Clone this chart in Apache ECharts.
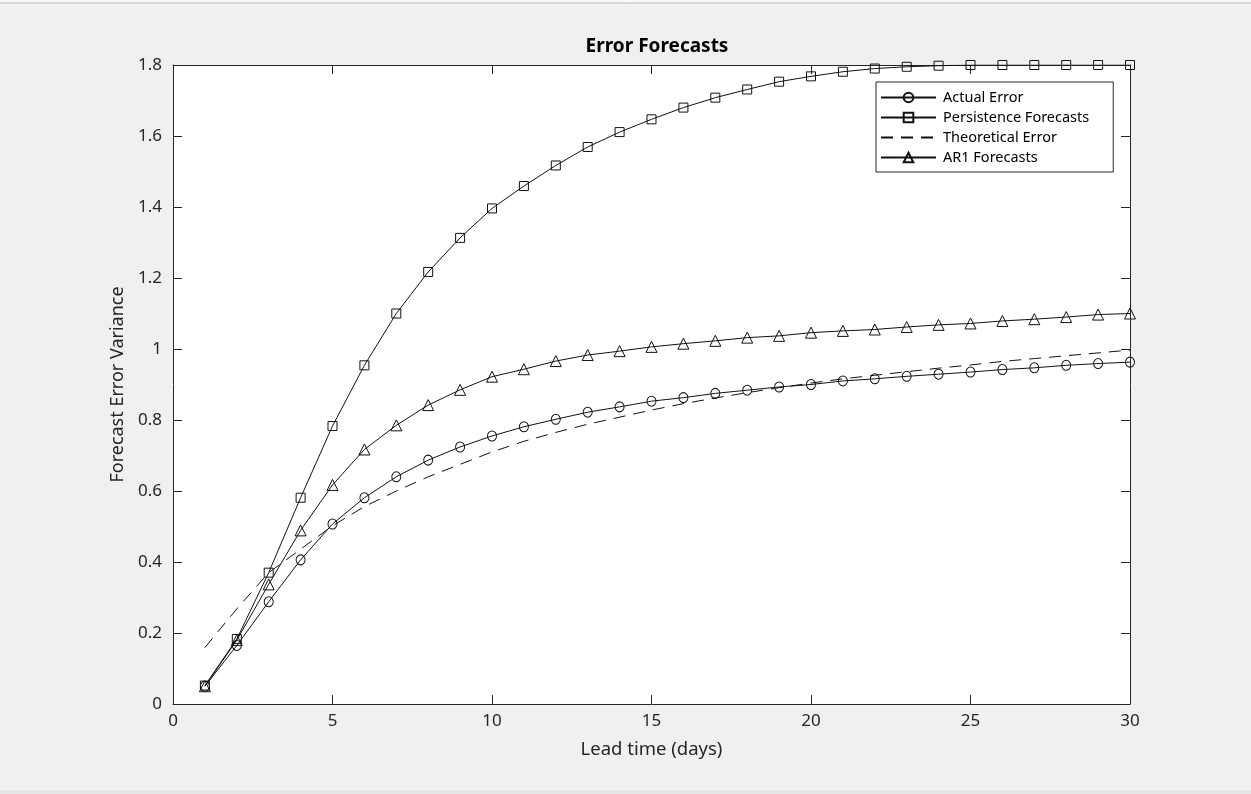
<!DOCTYPE html>
<html>
<head>
<meta charset="utf-8">
<script src="https://cdn.jsdelivr.net/npm/echarts@6/dist/echarts.min.js"></script>
<style>
html,body{margin:0;padding:0;background:#f0f0f0;}
#chart{width:1251px;height:794px;}
</style>
</head>
<body>
<div id="chart"></div>
<script>
var leadDays = [1,2,3,4,5,6,7,8,9,10,11,12,13,14,15,16,17,18,19,20,21,22,23,24,25,26,27,28,29,30];
var actualError = [0.05,0.165,0.288,0.406,0.507,0.581,0.640,0.687,0.724,0.755,0.781,0.802,0.822,0.837,0.853,0.863,0.875,0.884,0.893,0.900,0.910,0.916,0.923,0.929,0.935,0.942,0.947,0.954,0.959,0.963];
var persistenceForecasts = [0.052,0.183,0.370,0.581,0.783,0.954,1.100,1.217,1.313,1.396,1.459,1.517,1.569,1.611,1.647,1.680,1.708,1.731,1.753,1.768,1.781,1.790,1.795,1.798,1.800,1.800,1.800,1.800,1.800,1.800];
var theoreticalError = [0.159,0.268,0.370,0.436,0.502,0.556,0.600,0.640,0.675,0.710,0.740,0.765,0.788,0.808,0.828,0.846,0.862,0.877,0.891,0.904,0.916,0.926,0.936,0.946,0.955,0.965,0.973,0.981,0.989,0.997];
var ar1Forecasts = [0.050,0.180,0.337,0.489,0.617,0.717,0.785,0.842,0.885,0.922,0.943,0.966,0.983,0.994,1.006,1.015,1.023,1.032,1.037,1.046,1.051,1.055,1.062,1.068,1.072,1.079,1.084,1.090,1.097,1.100];

function pairs(ys){ return leadDays.map(function(x,i){ return [x, ys[i]]; }); }

var FONT = 'Noto Sans';
var TXT = '#262626';
var chart = echarts.init(document.getElementById('chart'), null, {renderer:'canvas'});

var tickCommon = {show:true, inside:true, length:9, lineStyle:{color:'#262626', width:1}};
var lineCommon = {show:true, onZero:false, lineStyle:{color:'#262626', width:1}};

var markerStyle = {color:'rgba(0,0,0,0)', borderColor:'#111', borderWidth:1};

chart.setOption({
  backgroundColor:'#f0f0f0',
  animation:false,
  title:{
    text:'Error Forecasts', left:652, top:32, textAlign:'center',
    textStyle:{fontFamily:FONT, fontSize:19, fontWeight:'bold', color:'#000'}
  },
  graphic:[
    {type:'rect', shape:{x:0,y:0,width:1251,height:3}, style:{fill:'#f7f7f7'}, silent:true},
    {type:'line', shape:{x1:0,y1:3,x2:1251,y2:3}, style:{stroke:'#bdbdbd', lineWidth:1}, silent:true},
    {type:'rect', shape:{x:0,y:790,width:1251,height:4}, style:{fill:'#e6e6e6'}, silent:true}
  ],
  grid:{left:173, top:65, width:957, height:639, backgroundColor:'#fff', show:true, borderWidth:0},
  legend:{
    orient:'vertical', left:876, top:82,
    backgroundColor:'#fff', borderColor:'#262626', borderWidth:1,
    padding:[8,24,7,4], itemGap:5, itemWidth:55, itemHeight:12,
    textStyle:{fontFamily:FONT, fontSize:14.5, color:'#000', lineHeight:14, padding:[0,0,0,2]},
    data:[
      'Actual Error',
      'Persistence Forecasts',
      {name:'Theoretical Error', itemStyle:{color:'rgba(0,0,0,0)', borderWidth:0, opacity:0}},
      'AR1 Forecasts'
    ]
  },
  xAxis:[
    {type:'value', min:0, max:30, interval:5, position:'bottom',
     name:'Lead time (days)', nameLocation:'middle', nameGap:36,
     nameTextStyle:{fontFamily:FONT, fontSize:18.5, color:TXT},
     axisLine:lineCommon, axisTick:tickCommon, splitLine:{show:false},
     axisLabel:{fontFamily:FONT, fontSize:17, color:TXT, margin:9}},
    {type:'value', min:0, max:30, interval:5, position:'top',
     axisLine:lineCommon, axisTick:tickCommon, splitLine:{show:false},
     axisLabel:{show:false}}
  ],
  yAxis:[
    {type:'value', min:0, max:1.8, interval:0.2, position:'left',
     name:'Forecast Error Variance', nameLocation:'middle', nameGap:43,
     nameTextStyle:{fontFamily:FONT, fontSize:18, color:TXT},
     axisLine:lineCommon, axisTick:tickCommon, splitLine:{show:false},
     axisLabel:{fontFamily:FONT, fontSize:17, color:TXT, margin:11}},
    {type:'value', min:0, max:1.8, interval:0.2, position:'right',
     axisLine:lineCommon, axisTick:tickCommon, splitLine:{show:false},
     axisLabel:{show:false}}
  ],
  series:[
    {name:'Actual Error', type:'line', xAxisIndex:0, yAxisIndex:0,
     data:pairs(actualError), symbol:'circle', symbolSize:[9,10], showSymbol:true,
     lineStyle:{color:'#111', width:1}, itemStyle:markerStyle},
    {name:'Persistence Forecasts', type:'line', xAxisIndex:0, yAxisIndex:0,
     data:pairs(persistenceForecasts), symbol:'rect', symbolSize:9, showSymbol:true,
     lineStyle:{color:'#111', width:1}, itemStyle:markerStyle},
    {name:'Theoretical Error', type:'line', xAxisIndex:0, yAxisIndex:0,
     data:pairs(theoreticalError), symbol:'none', showSymbol:false,
     lineStyle:{color:'#111', width:1, type:[12,8]}, itemStyle:{color:'#111'}},
    {name:'AR1 Forecasts', type:'line', xAxisIndex:0, yAxisIndex:0,
     data:pairs(ar1Forecasts), symbol:'triangle', symbolSize:[11,11], showSymbol:true,
     lineStyle:{color:'#111', width:1}, itemStyle:markerStyle}
  ]
});
</script>
</body>
</html>
